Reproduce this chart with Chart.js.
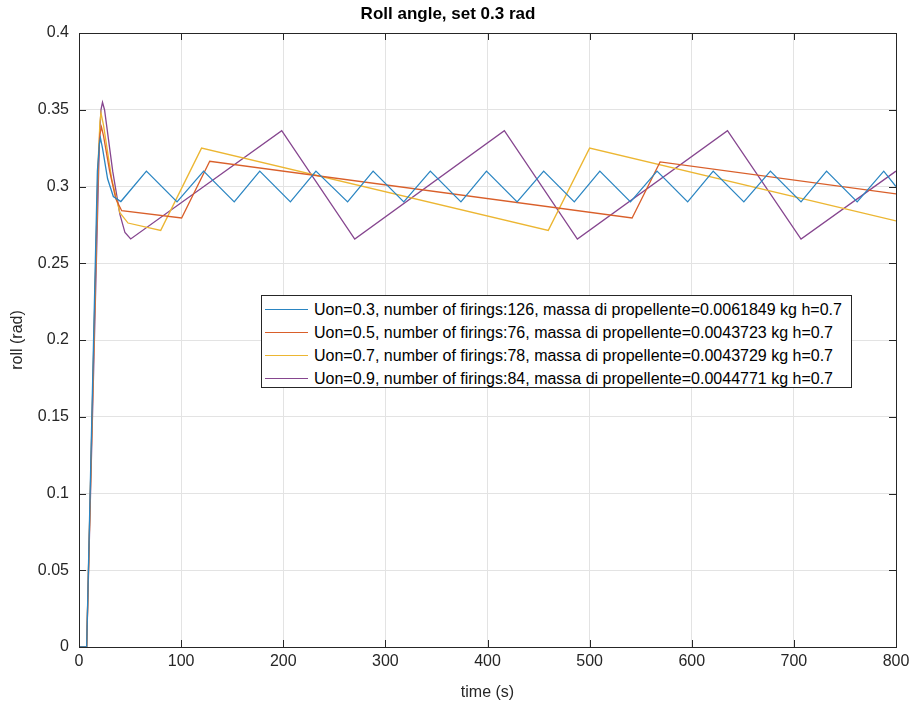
<!DOCTYPE html>
<html>
<head>
<meta charset="utf-8">
<script src="https://cdn.jsdelivr.net/npm/chart.js@4/dist/chart.umd.min.js"></script>
<style>
  html, body { margin:0; padding:0; background:#fff; }
  #wrap { position:relative; width:916px; height:704px; }
  #legend {
    position:absolute; left:261px; top:295px; width:591px; height:93px;
    border:1px solid #262626; background:#fff; box-sizing:border-box;
    font-family:"Liberation Sans", Arial, sans-serif; font-size:16px; color:#000;
    padding-top:2px;
  }
  .row { height:23px; line-height:23px; display:flex; align-items:center; white-space:nowrap; }
  .swatch { width:43px; height:1px; margin-left:3px; margin-right:6px; }
</style>
</head>
<body>
<div id="wrap">
  <canvas id="ch" width="916" height="704"></canvas>
  <div id="legend"></div>
</div>
<script>
/* ── data ── */
const xTicks = [0, 100, 200, 300, 400, 500, 600, 700, 800];
const yTicks = [0, 0.05, 0.1, 0.15, 0.2, 0.25, 0.3, 0.35, 0.4];

const labels = [
  'Uon=0.3, number of firings:126, massa di propellente=0.0061849 kg h=0.7',
  'Uon=0.5, number of firings:76, massa di propellente=0.0043723 kg h=0.7',
  'Uon=0.7, number of firings:78, massa di propellente=0.0043729 kg h=0.7',
  'Uon=0.9, number of firings:84, massa di propellente=0.0044771 kg h=0.7'
];
const colors = ['#2a85c2', '#d95f2a', '#ecb632', '#86468f'];

// Uon=0.3
const t03 = [0, 7.5, 18, 20, 21, 23, 28, 33.6, 41,
  66, 96, 122, 152, 177, 207, 232, 263, 288, 318, 344, 374, 399, 429, 455,
  485, 510, 540, 566, 596, 621, 651, 677, 707, 732, 762, 788, 800];
const v03 = [0, 0, 0.31, 0.328, 0.3316, 0.325, 0.305, 0.2935, 0.2902,
  0.31, 0.29, 0.31, 0.29, 0.31, 0.29, 0.31, 0.29, 0.31, 0.29, 0.31, 0.29, 0.31, 0.29, 0.31,
  0.29, 0.31, 0.29, 0.31, 0.29, 0.31, 0.29, 0.31, 0.29, 0.31, 0.29, 0.31, 0.30];

// Uon=0.5
const t05 = [0, 7.5, 18.5, 20.5, 22, 24, 30, 36, 41.8, 100.5, 128, 541.6, 569, 800];
const v05 = [0, 0, 0.31, 0.334, 0.3388, 0.333, 0.31, 0.292, 0.2842, 0.2795, 0.3164, 0.2795, 0.316, 0.2952];

// Uon=0.7
const t07 = [0, 7.5, 19, 20.5, 21.5, 24, 32, 40, 48, 80, 120, 459.5, 500, 800];
const v07 = [0, 0, 0.32, 0.342, 0.348, 0.34, 0.305, 0.283, 0.2762, 0.2714, 0.325, 0.2714, 0.325, 0.2776];

// Uon=0.9
const t09 = [0, 7.5, 20, 21.5, 23, 25, 33, 40, 45, 50.6, 198.5, 270, 416.5, 488, 635, 707, 800];
const v09 = [0, 0, 0.33, 0.35, 0.3548, 0.35, 0.31, 0.282, 0.27, 0.2658, 0.3364, 0.2658, 0.3364, 0.2658, 0.3364, 0.2658, 0.31];

const series = [[t03, v03], [t05, v05], [t07, v07], [t09, v09]];

/* ── legend box (HTML) ── */
const lg = document.getElementById('legend');
labels.forEach((txt, i) => {
  const r = document.createElement('div');
  r.className = 'row';
  r.innerHTML = `<span class="swatch" style="background:${colors[i]}"></span><span>${txt}</span>`;
  lg.appendChild(r);
});

/* ── frame + inward ticks, MATLAB style ── */
const boxPlugin = {
  id: 'box',
  afterDraw(chart) {
    const { ctx, chartArea: a, scales } = chart;
    ctx.save();
    ctx.strokeStyle = '#262626';
    ctx.lineWidth = 1;
    ctx.beginPath();
    xTicks.forEach(v => {
      const px = Math.round(scales.x.getPixelForValue(v)) + 0.5;
      ctx.moveTo(px, a.bottom); ctx.lineTo(px, a.bottom - 7);
      ctx.moveTo(px, a.top);    ctx.lineTo(px, a.top + 7);
    });
    yTicks.forEach(v => {
      const py = Math.round(scales.y.getPixelForValue(v)) + 0.5;
      ctx.moveTo(a.left, py);  ctx.lineTo(a.left + 7, py);
      ctx.moveTo(a.right, py); ctx.lineTo(a.right - 7, py);
    });
    ctx.stroke();
    ctx.strokeRect(Math.round(a.left) + 0.5, Math.round(a.top) + 0.5,
                   Math.round(a.right - a.left), Math.round(a.bottom - a.top));
    ctx.restore();
  }
};

const font = 'Liberation Sans, Arial, sans-serif';

new Chart(document.getElementById('ch'), {
  type: 'scatter',
  data: {
    datasets: series.map(([t, v], i) => ({
      label: labels[i],
      data: t.map((x, k) => ({ x, y: v[k] })),
      showLine: true,
      borderColor: colors[i],
      borderWidth: 1.3,
      pointRadius: 0,
      tension: 0,
    }))
  },
  options: {
    responsive: false,
    animation: false,
    layout: { padding: { left: 0, right: 20, top: 0, bottom: 0 } },
    plugins: {
      legend: { display: false },
      tooltip: { enabled: false },
      title: {
        display: true,
        text: 'Roll angle, set 0.3 rad',
        color: '#000',
        font: { family: font, size: 17, weight: 'bold' },
        padding: { top: 4, bottom: 8.6 }
      }
    },
    scales: {
      x: {
        type: 'linear', min: 0, max: 800,
        afterBuildTicks: s => { s.ticks = xTicks.map(value => ({ value })); },
        afterFit: s => { s.height = 57; },
        grid: { color: '#e3e3e3', drawTicks: false },
        border: { display: false },
        ticks: { color: '#262626', font: { family: font, size: 16 }, padding: 5 },
        title: { display: true, text: 'time (s)', color: '#262626',
                 font: { family: font, size: 16 }, padding: { top: 0, bottom: 2 } }
      },
      y: {
        type: 'linear', min: 0, max: 0.4,
        afterBuildTicks: s => { s.ticks = yTicks.map(value => ({ value })); },
        afterFit: s => { s.width = 79; },
        grid: { color: '#e3e3e3', drawTicks: false },
        border: { display: false },
        ticks: { color: '#262626', font: { family: font, size: 16 }, padding: 10,
                 callback: v => String(+v.toFixed(2)) },
        title: { display: true, text: 'roll (rad)', color: '#262626',
                 font: { family: font, size: 16 }, padding: { top: 8, bottom: 0 } }
      }
    }
  },
  plugins: [boxPlugin]
});
</script>
</body>
</html>
